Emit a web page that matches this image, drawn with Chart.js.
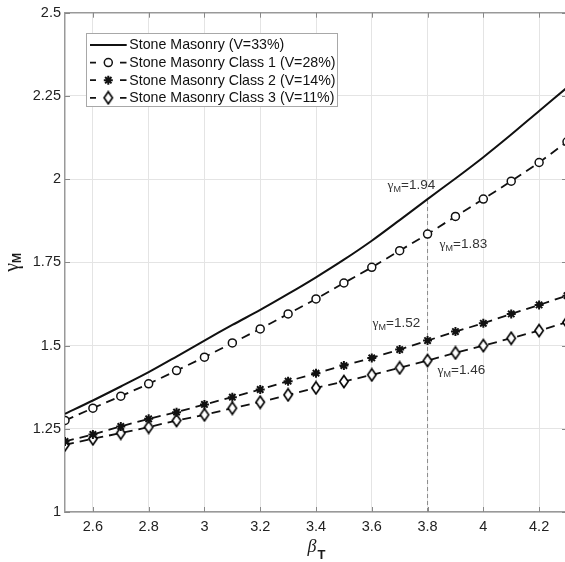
<!DOCTYPE html>
<html><head><meta charset="utf-8">
<script src="https://cdn.jsdelivr.net/npm/chart.js@4.4.1/dist/chart.umd.min.js"></script>
<style>
html,body{margin:0;padding:0;background:#fff;overflow:hidden;}
#wrap{width:565px;height:562px;overflow:hidden;position:relative;background:#fff;}
canvas{display:block;}
</style></head><body>
<div id="wrap"><canvas id="c" width="580" height="562" style="width:580px;height:562px"></canvas></div>
<script>
// ---- data ----
const betaValues  = [2.5,2.6,2.7,2.8,2.9,3.0,3.1,3.2,3.3,3.4,3.5,3.6,3.7,3.8,3.9,4.0,4.1,4.2,4.3];
const gammaStone  = [1.295,1.335,1.377,1.420,1.467,1.515,1.562,1.607,1.655,1.705,1.758,1.815,1.877,1.940,2.002,2.066,2.134,2.205,2.275];
const gammaClass1 = [1.275,1.312,1.348,1.385,1.425,1.465,1.508,1.550,1.595,1.640,1.688,1.735,1.785,1.835,1.888,1.940,1.994,2.050,2.112];
const gammaClass2 = [1.212,1.233,1.257,1.280,1.300,1.323,1.345,1.368,1.393,1.417,1.440,1.463,1.488,1.515,1.542,1.567,1.595,1.622,1.650];
const gammaClass3 = [1.202,1.220,1.237,1.255,1.275,1.292,1.312,1.330,1.352,1.373,1.392,1.412,1.433,1.455,1.478,1.500,1.522,1.545,1.570];
const seriesLabels = ['Stone Masonry (V=33%)','Stone Masonry Class 1 (V=28%)','Stone Masonry Class 2 (V=14%)','Stone Masonry Class 3 (V=11%)'];
const xTickValues = [2.6,2.8,3.0,3.2,3.4,3.6,3.8,4.0,4.2];
const xTickLabels = ['2.6','2.8','3','3.2','3.4','3.6','3.8','4','4.2'];
const yTickValues = [1,1.25,1.5,1.75,2,2.25,2.5];
const yTickLabels = ['1','1.25','1.5','1.75','2','2.25','2.5'];
const refBeta = 3.8;
const refGammas = [1.94, 1.83, 1.52, 1.46];

// ---- marker images ----
function diamondMarker(){
  const c = document.createElement('canvas'); c.width = 12; c.height = 15;
  const g = c.getContext('2d');
  g.beginPath(); g.moveTo(6,1.5); g.lineTo(10.2,7.5); g.lineTo(6,13.5); g.lineTo(1.8,7.5); g.closePath();
  g.fillStyle = '#fff'; g.fill(); g.lineWidth = 1.6; g.strokeStyle = '#000'; g.stroke();
  return c;
}
const diamondImg = diamondMarker();

const pts = arr => betaValues.map((b,i)=>({x:b, y:arr[i]}));
const FONT = "'Liberation Sans', Arial, Helvetica, sans-serif";
const SERIF = "'Liberation Serif', 'Times New Roman', serif";

const datasets = [
  {label:seriesLabels[0], data:pts(gammaStone), borderColor:'#111', borderWidth:2, pointRadius:0, tension:0.3, dashed:false},
  {label:seriesLabels[1], data:pts(gammaClass1), borderColor:'#111', borderWidth:1.8, borderDash:[9,6],
   pointStyle:'circle', pointRadius:4, pointBorderWidth:1.5, pointBackgroundColor:'#fff', pointBorderColor:'#111', dashed:true},
  {label:seriesLabels[2], data:pts(gammaClass2), borderColor:'#111', borderWidth:1.8, borderDash:[9,6],
   pointStyle:'star', pointRadius:4.5, pointBorderWidth:2, pointBackgroundColor:'#111', pointBorderColor:'#111', dashed:true},
  {label:seriesLabels[3], data:pts(gammaClass3), borderColor:'#111', borderWidth:1.8, borderDash:[9,6],
   pointStyle:diamondImg, pointRadius:5, pointBorderWidth:1.5, pointBackgroundColor:'#fff', pointBorderColor:'#111', dashed:true},
  {label:'ref', data:[{x:refBeta,y:1},{x:refBeta,y:refGammas[0]}], borderColor:'#8a8a8a', borderWidth:1, borderDash:[4,3], pointRadius:0, dashed:false}
];

function drawGammaText(ctx, x, baseline, value, size){
  ctx.font = size + 'px ' + SERIF;
  ctx.fillText('\u03B3', x, baseline);
  let w = ctx.measureText('\u03B3').width;
  ctx.font = Math.round(size*0.7) + 'px ' + FONT;
  ctx.fillText('M', x + w, baseline + 3);
  w += ctx.measureText('M').width;
  ctx.font = size + 'px ' + FONT;
  ctx.fillText('=' + value.toFixed(2), x + w, baseline);
}

const overlay = {
  id:'overlay',
  afterDraw(chart){
    const {ctx, chartArea:a, scales:{x, y}} = chart;
    ctx.save();
    // box top/right
    ctx.strokeStyle = '#999'; ctx.lineWidth = 1.5;
    ctx.beginPath(); ctx.moveTo(a.left, a.top); ctx.lineTo(a.right, a.top); ctx.lineTo(a.right, a.bottom); ctx.stroke();
    // inward ticks
    ctx.lineWidth = 1; ctx.strokeStyle = '#888';
    ctx.beginPath();
    xTickValues.forEach(v=>{
      const px = Math.round(x.getPixelForValue(v)) + 0.5;
      ctx.moveTo(px, a.bottom); ctx.lineTo(px, a.bottom - 5);
      ctx.moveTo(px, a.top); ctx.lineTo(px, a.top + 5);
    });
    yTickValues.forEach(v=>{
      const py = Math.round(y.getPixelForValue(v)) + 0.5;
      ctx.moveTo(a.left, py); ctx.lineTo(a.left + 5, py);
      ctx.moveTo(a.right, py); ctx.lineTo(a.right - 5, py);
    });
    ctx.stroke();

    // annotations
    ctx.fillStyle = '#333'; ctx.textBaseline = 'alphabetic'; ctx.textAlign = 'left';
    const px = x.getPixelForValue(refBeta);
    const offs = [[-40,-10],[12,12],[-55,-11.5],[10,15]];
    refGammas.forEach((g,i)=>{
      const py = y.getPixelForValue(g);
      drawGammaText(ctx, px + offs[i][0], py + offs[i][1], g, 13.5);
    });

    // legend
    const L = 86.5, T = 33.5, W = 251, H = 73;
    ctx.fillStyle = '#fff'; ctx.fillRect(L, T, W, H);
    ctx.strokeStyle = '#a8a8a8'; ctx.lineWidth = 1; ctx.strokeRect(L, T, W, H);
    for (let i = 0; i < 4; i++){
      const ds = chart.data.datasets[i];
      const cy = 45 + i*17.6;
      ctx.strokeStyle = '#111'; ctx.lineWidth = ds.borderWidth; ctx.setLineDash([]);
      ctx.beginPath();
      if (ds.dashed){ ctx.moveTo(90, cy); ctx.lineTo(96, cy); ctx.moveTo(120, cy); ctx.lineTo(126.5, cy); }
      else { ctx.moveTo(90, cy); ctx.lineTo(126.7, cy); }
      ctx.stroke();
      if (ds.dashed){
        ctx.fillStyle = ds.pointBackgroundColor; ctx.strokeStyle = ds.pointBorderColor; ctx.lineWidth = ds.pointBorderWidth;
        Chart.helpers.drawPoint(ctx, {pointStyle: ds.pointStyle, rotation:0, radius: ds.pointRadius, borderWidth: ds.pointBorderWidth}, 108.3, cy);
      }
      ctx.fillStyle = '#111'; ctx.font = '14.2px ' + FONT; ctx.textBaseline = 'middle';
      ctx.fillText(ds.label, 129.3, cy + 0.5);
    }

    // x title: beta_T
    ctx.textBaseline = 'alphabetic'; ctx.fillStyle = '#1a1a1a';
    ctx.font = 'italic 18px ' + SERIF;
    const wb = ctx.measureText('\u03B2').width;
    ctx.font = 'bold 13px ' + FONT;
    const wt = ctx.measureText('T').width;
    const cx = (a.left + 565) / 2 + 1;
    const sx = cx - (wb + wt) / 2;
    ctx.font = 'italic 18px ' + SERIF; ctx.fillText('\u03B2', sx, 551.5);
    ctx.font = 'bold 13px ' + FONT; ctx.fillText('T', sx + wb + 1, 559);

    // y title: gamma_M
    ctx.save();
    ctx.translate(18, (a.top + a.bottom) / 2);
    ctx.rotate(-Math.PI / 2);
    ctx.font = '20px ' + SERIF;
    const wg = ctx.measureText('\u03B3').width;
    ctx.font = 'bold 12px ' + FONT;
    const wm = ctx.measureText('M').width;
    const s0 = -(wg + wm) / 2;
    ctx.font = '20px ' + SERIF; ctx.fillText('\u03B3', s0, 0);
    ctx.font = 'bold 12px ' + FONT; ctx.fillText('M', s0 + wg, 3);
    ctx.restore();

    ctx.restore();
  }
};

new Chart(document.getElementById('c'), {
  type:'line',
  data:{datasets},
  options:{
    responsive:false, animation:false, devicePixelRatio:1,
    layout:{padding:{left:0, top:12, right:13, bottom:0}},
    plugins:{legend:{display:false}, tooltip:{enabled:false}},
    scales:{
      x:{type:'linear', min:2.5, max:4.3,
        afterBuildTicks: s => { s.ticks = xTickValues.map(v=>({value:v})); },
        afterFit: s => { s.height = 50; },
        ticks:{callback: v => xTickLabels[xTickValues.indexOf(v)], font:{family:FONT, size:14.5}, color:'#222', padding:6, maxRotation:0, autoSkip:false},
        grid:{color:'#e4e4e4', lineWidth:1, drawTicks:false},
        border:{display:true, color:'#999', width:1.5}
      },
      y:{type:'linear', min:1, max:2.5,
        afterBuildTicks: s => { s.ticks = yTickValues.map(v=>({value:v})); },
        afterFit: s => { s.width = 65; },
        ticks:{callback: v => yTickLabels[yTickValues.indexOf(v)], font:{family:FONT, size:14.5}, color:'#222', padding:4, autoSkip:false},
        grid:{color:'#e4e4e4', lineWidth:1, drawTicks:false},
        border:{display:true, color:'#999', width:1.5}
      }
    }
  },
  plugins:[overlay]
});
</script>
</body></html>
